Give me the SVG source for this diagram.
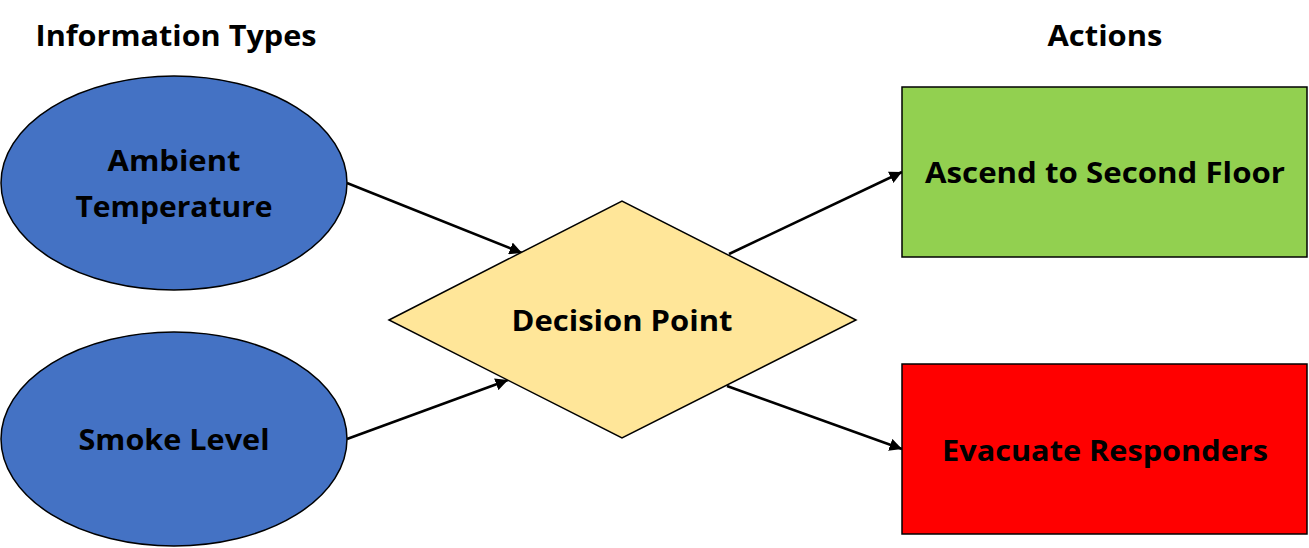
<svg xmlns="http://www.w3.org/2000/svg" width="1309" height="548" viewBox="0 0 1309 548">
<defs>
<style>
text{font-family:"Open Sans","Noto Sans","Liberation Sans",sans-serif;font-weight:bold;font-size:28px;fill:#000;text-anchor:middle}
.n{stroke:#000;stroke-width:1.5}
.e{stroke:#000;stroke-width:2.5;fill:none;marker-end:url(#ah)}
</style>
<marker id="ah" viewBox="0 0 10 10" refX="10" refY="5" markerWidth="5" markerHeight="5" orient="auto" markerUnits="strokeWidth">
<path d="M0,0 L10,5 L0,10 Z" fill="#000"/>
</marker>
</defs>
<rect width="1309" height="548" fill="#fff"/>
<text x="176" y="46" textLength="281" lengthAdjust="spacingAndGlyphs">Information Types</text>
<text x="1105" y="46" textLength="115" lengthAdjust="spacingAndGlyphs">Actions</text>
<g id="connectors">
<line class="e" x1="347" y1="183" x2="522" y2="253"/>
<line class="e" x1="347" y1="439" x2="508" y2="380"/>
<line class="e" x1="729" y1="254" x2="902" y2="172"/>
<line class="e" x1="727" y1="386" x2="902" y2="449"/>
</g>
<g id="ambient">
<ellipse class="n" cx="174" cy="183" rx="173" ry="107" fill="#4472C4"/>
<text x="174" y="171" textLength="133" lengthAdjust="spacingAndGlyphs">Ambient</text>
<text x="174" y="217" textLength="197" lengthAdjust="spacingAndGlyphs">Temperature</text>
</g>
<g id="smoke">
<ellipse class="n" cx="174" cy="439" rx="173" ry="107" fill="#4472C4"/>
<text x="174" y="450" textLength="191" lengthAdjust="spacingAndGlyphs">Smoke Level</text>
</g>
<g id="decision">
<polygon class="n" points="389,320 622,201 856,320 622,438" fill="#FFE699"/>
<text x="622" y="331" textLength="221" lengthAdjust="spacingAndGlyphs">Decision Point</text>
</g>
<g id="ascend">
<rect class="n" x="902" y="87" width="405" height="170" fill="#92D050"/>
<text x="1105" y="183" textLength="360" lengthAdjust="spacingAndGlyphs">Ascend to Second Floor</text>
</g>
<g id="evacuate">
<rect class="n" x="902" y="364" width="405" height="170" fill="#FF0000"/>
<text x="1105" y="461" textLength="326" lengthAdjust="spacingAndGlyphs">Evacuate Responders</text>
</g>
</svg>
